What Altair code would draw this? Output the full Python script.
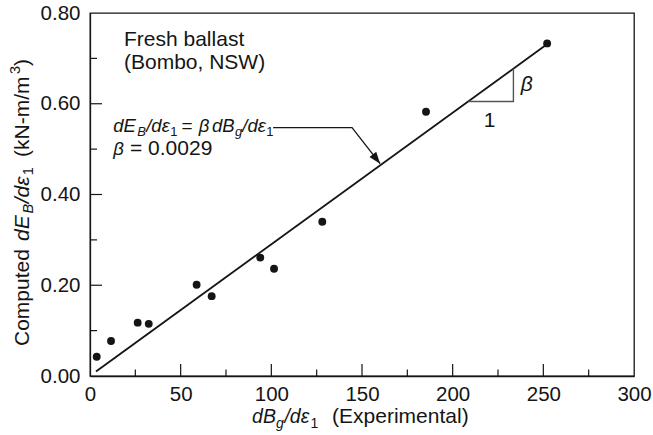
import altair as alt
import pandas as pd

# ---------------- data ----------------
exp_x = [3.7, 11.6, 26.3, 32.4, 58.8, 67.1, 93.9, 101.5, 128.1, 185.3, 252.1]
comp_y = [0.0425, 0.077, 0.1175, 0.115, 0.201, 0.176, 0.261, 0.2365, 0.340, 0.5825, 0.733]

fit_x = [3.3, 252.0]
fit_y = [0.010, 0.731]

x_tick_labels = [0, 50, 100, 150, 200, 250, 300]
y_tick_labels = [0.0, 0.2, 0.4, 0.6, 0.8]
x_major_ticks = [50, 100, 150, 200, 250]
x_minor_ticks = [25, 75, 125, 175, 225, 275]
y_major_ticks = [0.2, 0.4, 0.6]
y_minor_ticks = [0.1, 0.3, 0.5, 0.7]

slope_x = [208.6, 233.5, 233.5]
slope_y = [0.605, 0.605, 0.677]

leader_x = [101.0, 144.5, 160.0]
leader_y = [0.5476, 0.5476, 0.468]

# text pieces (x, y in data units)
normal_text = ["Fresh ballast", "(Bombo, NSW)", "= 0.0029", "(Experimental)"]
normal_x = [18.75, 18.75, 22.06, 133.5]
normal_y = [0.7278, 0.676, 0.487, -0.1042]

eq_norm_text = ["="]
eq_norm_x = [50.4]
eq_norm_y = [0.5384]

eq_it_text = ["dE", "/dε", "β", "dB", "/dε", "β"]
eq_it_x = [12.85, 31.0, 60.0, 67.3, 84.0, 12.85]
eq_it_y = [0.5384, 0.5384, 0.5384, 0.5384, 0.5384, 0.487]

eq_sub_it_text = ["B", "g"]
eq_sub_it_x = [26.0, 79.9]
eq_sub_it_y = [0.5290, 0.5290]

eq_sub_text = ["1", "1"]
eq_sub_x = [44.2, 97.2]
eq_sub_y = [0.5290, 0.5290]

xt_it_text = ["dB", "/dε"]
xt_it_x = [89.4, 107.2]
xt_it_y = [-0.1042, -0.1042]
xt_sub_it_text = ["g"]
xt_sub_it_x = [102.6]
xt_sub_it_y = [-0.1146]
xt_sub_text = ["1"]
xt_sub_x = [121.6]
xt_sub_y = [-0.1146]

tri_text = ["1"]
tri_x = [220.3]
tri_y = [0.5487]
tri_it_text = ["β"]
tri_it_x = [240.9]
tri_it_y = [0.628]

# rotated y-axis title pieces
yt_norm_text = ["Computed", "(kN-m/m", ")"]
yt_norm_x = [-33.6, -33.6, -33.6]
yt_norm_y = [0.0661, 0.4827, 0.6832]
yt_it_text = ["dE", "/dε"]
yt_it_x = [-33.6, -33.6]
yt_it_y = [0.2975, 0.3805]
yt_sub_it_text = ["B"]
yt_sub_it_x = [-31.4]
yt_sub_it_y = [0.3580]
yt_sub_text = ["1"]
yt_sub_x = [-31.4]
yt_sub_y = [0.4425]
yt_sup_text = ["3"]
yt_sup_x = [-38.5]
yt_sup_y = [0.6656]

# ---------------- chart ----------------
FONT = "Liberation Sans"
INK = "#151515"
xs = alt.Scale(domain=[0, 300], nice=False, zero=False)
ys = alt.Scale(domain=[0, 0.8], nice=False, zero=False)
AX = alt.Axis(values=x_tick_labels, format="d", ticks=False, grid=False, labelPadding=8,
              labelFlush=False, labelOverlap=False, title=None)
AY = alt.Axis(values=y_tick_labels, format=".2f", ticks=False, grid=False, labelPadding=10,
              labelFlush=False, labelOverlap=False, title=None)


def enc(xf="x", yf="y"):
    return dict(x=alt.X(f"{xf}:Q", scale=xs, axis=AX),
                y=alt.Y(f"{yf}:Q", scale=ys, axis=AY))


pts_df = pd.DataFrame({"x": exp_x, "y": comp_y})
points = alt.Chart(pts_df).mark_point(
    filled=True, shape="circle", size=62, color=INK, opacity=1
).encode(**enc())

fit = alt.Chart(pd.DataFrame({"x": fit_x, "y": fit_y})).mark_line(
    color=INK, strokeWidth=1.9).encode(**enc())

slope = alt.Chart(pd.DataFrame({"x": slope_x, "y": slope_y, "o": range(len(slope_x))})).mark_line(
    color="#555555", strokeWidth=1.4).encode(order="o:O", **enc())

leader = alt.Chart(pd.DataFrame({"x": leader_x, "y": leader_y, "o": range(len(leader_x))})).mark_line(
    color=INK, strokeWidth=1.3).encode(order="o:O", **enc())

arrow = alt.Chart(pd.DataFrame({"x": leader_x[-1:], "y": leader_y[-1:]})).mark_point(
    shape="M0,0L-0.36,-1L0.36,-1Z", filled=True, size=560, angle=322, color=INK, opacity=1
).encode(**enc())

# inward ticks
MAJ_X, MIN_X = 12 / 453.75, 6.5 / 453.75
MAJ_Y, MIN_Y = 12 / 1.813, 7 / 1.813
xt = pd.DataFrame({"x": x_major_ticks + x_minor_ticks,
                   "y": [0.0] * (len(x_major_ticks) + len(x_minor_ticks)),
                   "y2": [MAJ_X] * len(x_major_ticks) + [MIN_X] * len(x_minor_ticks)})
xticks = alt.Chart(xt).mark_rule(color=INK, strokeWidth=1.2).encode(y2="y2:Q", **enc())
yt = pd.DataFrame({"y": y_major_ticks + y_minor_ticks,
                   "x": [0.0] * (len(y_major_ticks) + len(y_minor_ticks)),
                   "x2": [MAJ_Y] * len(y_major_ticks) + [MIN_Y] * len(y_minor_ticks)})
yticks = alt.Chart(yt).mark_rule(color=INK, strokeWidth=1.2).encode(x2="x2:Q", **enc())


def text_layer(texts, xv, yv, size=21, style="normal", align="left", angle=0):
    df = pd.DataFrame({"x": xv, "y": yv, "t": texts})
    return alt.Chart(df).mark_text(
        font=FONT, fontSize=size, fontStyle=style, align=align, baseline="alphabetic",
        color=INK, angle=angle
    ).encode(text="t:N", **enc())


texts = [
    text_layer(normal_text, normal_x, normal_y),
    text_layer(eq_norm_text, eq_norm_x, eq_norm_y, size=19),
    text_layer(eq_it_text, eq_it_x, eq_it_y, size=18.5, style="italic"),
    text_layer(eq_sub_it_text, eq_sub_it_x, eq_sub_it_y, size=13, style="italic"),
    text_layer(eq_sub_text, eq_sub_x, eq_sub_y, size=13),
    text_layer(xt_it_text, xt_it_x, xt_it_y, size=19.5, style="italic"),
    text_layer(xt_sub_it_text, xt_sub_it_x, xt_sub_it_y, size=14, style="italic"),
    text_layer(xt_sub_text, xt_sub_x, xt_sub_y, size=14),
    text_layer(tri_text, tri_x, tri_y, align="center"),
    text_layer(tri_it_text, tri_it_x, tri_it_y, style="italic", align="center"),
    text_layer(yt_norm_text, yt_norm_x, yt_norm_y, angle=270),
    text_layer(yt_it_text, yt_it_x, yt_it_y, style="italic", angle=270),
    text_layer(yt_sub_it_text, yt_sub_it_x, yt_sub_it_y, size=14.5, style="italic", angle=270),
    text_layer(yt_sub_text, yt_sub_x, yt_sub_y, size=14.5, angle=270),
    text_layer(yt_sup_text, yt_sup_x, yt_sup_y, size=14.5, angle=270),
]

chart = alt.layer(points, fit, slope, leader, arrow, xticks, yticks, *texts).properties(
    width=544, height=363,
    autosize=alt.AutoSizeParams(type="none"),
    padding={"left": 90, "top": 13, "right": 19, "bottom": 59},
    background="white",
).configure_view(
    stroke=INK, strokeWidth=1.3
).configure_axis(
    domainColor=INK, domainWidth=1.3, labelFont=FONT, labelFontSize=20.5, labelColor=INK
)

chart.save("out.html", embed_options={"renderer": "svg", "actions": False})
